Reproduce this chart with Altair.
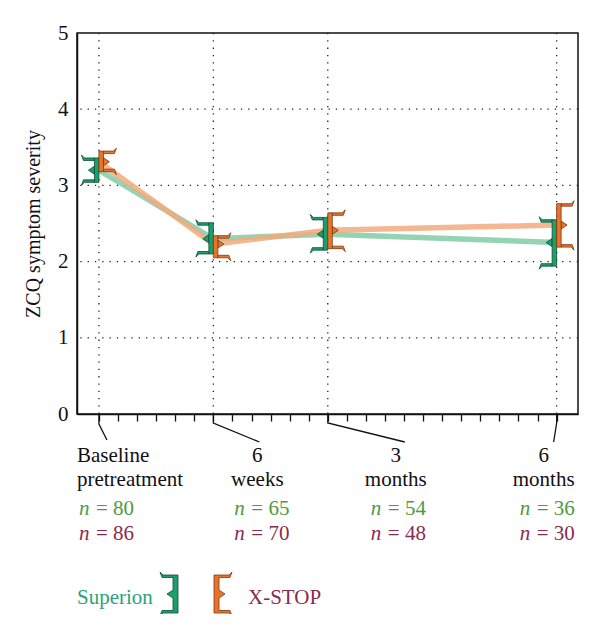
import altair as alt
import pandas as pd

# ---------------- data ----------------
weeks = [0, 6, 12, 24]
time_top = ["Baseline", "6", "3", "6"]
time_bottom = ["pretreatment", "weeks", "months", "months"]
series_names = ["Superion", "X-STOP"]
superion_mean = [3.20, 2.30, 2.36, 2.25]
superion_low = [3.04, 2.10, 2.15, 1.94]
superion_high = [3.36, 2.51, 2.58, 2.55]
xstop_mean = [3.31, 2.23, 2.41, 2.48]
xstop_low = [3.18, 2.05, 2.17, 2.19]
xstop_high = [3.45, 2.34, 2.64, 2.76]
superion_n = [80, 65, 54, 36]
xstop_n = [86, 70, 48, 30]
y_ticks = [0, 1, 2, 3, 4, 5]
grid_y = [1, 2, 3, 4]
minor_weeks = list(range(0, 25))

rows = []
for name, m, lo, hi, ns in [
    ("Superion", superion_mean, superion_low, superion_high, superion_n),
    ("X-STOP", xstop_mean, xstop_low, xstop_high, xstop_n),
]:
    for i, w in enumerate(weeks):
        rows.append(dict(series=name, week=w, mean=m[i], low=lo[i], high=hi[i], n=ns[i], idx=i))
df = pd.DataFrame(rows)

labels = pd.DataFrame({
    "week": weeks, "top": time_top, "bottom": time_bottom,
    "ns": ["= %d" % v for v in superion_n], "nx": ["= %d" % v for v in xstop_n],
})

# ---------------- styling ----------------
FONT = "Liberation Serif"
INK = "#111111"
FS = 21
GREEN_FILL, GREEN_EDGE, GREEN_LINE = "#1f9e6c", "#0b4f33", "#82cca6"
ORANGE_FILL, ORANGE_EDGE, ORANGE_LINE = "#e8742c", "#7a3a12", "#f2aa7e"
N_GREEN, N_MAROON = "#4f9a3f", "#8a2c4f"
LEG_GREEN = "#2aa37a"

xscale = alt.Scale(domain=[-1.15, 25.12], nice=False, zero=False, padding=0)
yscale = alt.Scale(domain=[0, 5], nice=False, zero=False, padding=0)
xaxis = alt.Axis(values=minor_weeks, labels=False, ticks=True, tickSize=7, tickWidth=1.3,
                 tickColor=INK, domainColor=INK, domainWidth=1.5, grid=False, title=None)
yaxis = alt.Axis(values=y_ticks, format="d", ticks=False, labelFontSize=FS, labelPadding=9, labelColor=INK,
                 labelFont=FONT, grid=False, domainColor=INK, domainWidth=1.5,
                 title="ZCQ symptom severity", titleFontSize=20, titleFontWeight="normal",
                 titleFont=FONT, titlePadding=14, titleColor=INK)


def X(f):
    return alt.X(f, scale=xscale, axis=xaxis)


def Y(f):
    return alt.Y(f, scale=yscale, axis=yaxis)


dots = dict(strokeDash=[1.3, 6], strokeWidth=1.3, color="#222222")
grid_h = alt.Chart(pd.DataFrame({"v": grid_y})).mark_rule(**dots).encode(y=Y("v:Q"))
grid_v = alt.Chart(pd.DataFrame({"week": weeks})).mark_rule(**dots).encode(x=X("week:Q"))

lines = alt.Chart(df).mark_line(strokeWidth=5.5, opacity=0.85).encode(
    x=X("week:Q"), y=Y("mean:Q"),
    color=alt.Color("series:N", scale=alt.Scale(domain=series_names, range=[GREEN_LINE, ORANGE_LINE]), legend=None),
)

# error-bar glyph parts (path units = pixels with size=4)
def cap_paths(sign):
    s = sign
    top = f"M{4.5*s},0 L{14.5*s},0 L{17.5*s},-3 L{15.5*s},2.5 L{4.5*s},2.5 Z"
    bot = f"M{4.5*s},0 L{14.5*s},0 L{17.5*s},3 L{15.5*s},-2.5 L{4.5*s},-2.5 Z"
    notch = f"M{4.5*s},-4 L{10.5*s},0 L{4.5*s},4 Z"
    return top, bot, notch


glyph_layers = []
for name, sign, fill, edge in [("Superion", -1, GREEN_FILL, GREEN_EDGE), ("X-STOP", 1, ORANGE_FILL, ORANGE_EDGE)]:
    sub = df[df.series == name]
    top, bot, notch = cap_paths(sign)
    pt = dict(size=4, filled=True, fill=fill, stroke=edge, strokeWidth=0.8, opacity=1)
    glyph_layers.append(alt.Chart(sub).mark_point(shape=top, **pt).encode(x=X("week:Q"), y=Y("high:Q")))
    glyph_layers.append(alt.Chart(sub).mark_point(shape=bot, **pt).encode(x=X("week:Q"), y=Y("low:Q")))
    glyph_layers.append(alt.Chart(sub).mark_point(shape=notch, **pt).encode(x=X("week:Q"), y=Y("mean:Q")))
    glyph_layers.append(alt.Chart(sub).mark_bar(width=4.5, xOffset=2.25 * sign, fill=fill, stroke=edge,
                                                strokeWidth=0.8).encode(x=X("week:Q"), y=Y("low:Q"), y2="high:Q"))

# ---------------- annotations below the axis ----------------
col_align = ["left", "center", "center", "center"]
col_dx = [-22, 44, 68, -13]
n_dx = [-20, 21, 43, -37]
leader = ["M0,0 L0,10 L8,26", "M0,0 L0,9 L46,28", "M0,0 L0,9 L77,28", "M0,0 L0,9 L-3,28"]

ann = []
for i in range(len(weeks)):
    one = alt.Chart(labels.iloc[[i]])
    ann.append(one.mark_point(shape=leader[i], size=4, filled=False, stroke=INK, strokeWidth=1.3, opacity=1)
               .encode(x=X("week:Q"), y=alt.YDatum(0, type="quantitative")))
    txt = dict(fontSize=FS, font=FONT, baseline="alphabetic")
    ann.append(one.mark_text(align=col_align[i], dx=col_dx[i], color=INK, **txt)
               .encode(x=X("week:Q"), y=alt.value(429), text="top:N"))
    ann.append(one.mark_text(align=col_align[i], dx=col_dx[i], color=INK, **txt)
               .encode(x=X("week:Q"), y=alt.value(453), text="bottom:N"))
    for yv, col, field in [(482, N_GREEN, "ns"), (507, N_MAROON, "nx")]:
        ann.append(one.mark_text(align="left", dx=n_dx[i], color=col, fontStyle="italic", **txt)
                   .encode(x=X("week:Q"), y=alt.value(yv), text=alt.value("n")))
        ann.append(one.mark_text(align="left", dx=n_dx[i] + 17, color=col, **txt)
                   .encode(x=X("week:Q"), y=alt.value(yv), text=f"{field}:N"))

# ---------------- legend ----------------
leg_df = pd.DataFrame({"series": series_names})
green_glyph = ("M5,-19 L5,19 L-10,19 L-13,22 L-11,16.5 L0,16.5 L0,4 L-6,0 L0,-4 L0,-16.5 "
               "L-11,-16.5 L-13,-22 L-10,-19 Z")
orange_glyph = ("M-5,-19 L-5,19 L10,19 L13,22 L11,16.5 L0,16.5 L0,4 L6,0 L0,-4 L0,-16.5 "
                "L11,-16.5 L13,-22 L10,-19 Z")
leg = [
    alt.Chart(leg_df.iloc[[0]]).mark_text(align="left", baseline="alphabetic", fontSize=FS, font=FONT,
                                          color=LEG_GREEN).encode(x=alt.value(0), y=alt.value(571), text="series:N"),
    alt.Chart(leg_df.iloc[[1]]).mark_text(align="left", baseline="alphabetic", fontSize=FS, font=FONT,
                                          color=N_MAROON).encode(x=alt.value(171), y=alt.value(571), text="series:N"),
    alt.Chart(leg_df.iloc[[0]]).mark_point(shape=green_glyph, size=4, filled=True, fill=GREEN_FILL,
                                           stroke=GREEN_EDGE, strokeWidth=0.8, opacity=1)
    .encode(x=alt.value(96), y=alt.value(561)),
    alt.Chart(leg_df.iloc[[1]]).mark_point(shape=orange_glyph, size=4, filled=True, fill=ORANGE_FILL,
                                           stroke=ORANGE_EDGE, strokeWidth=0.8, opacity=1)
    .encode(x=alt.value(142), y=alt.value(561)),
]

chart = alt.layer(grid_h, grid_v, lines, *glyph_layers, *ann, *leg).properties(
    width=501, height=381,
    autosize=alt.AutoSizeParams(type="none"),
    padding={"left": 69, "top": 25, "right": 6, "bottom": 200},
).configure(font=FONT).configure_view(stroke=INK, strokeWidth=1.5)

chart.save("out.html", embed_options={"renderer": "svg", "actions": False})
